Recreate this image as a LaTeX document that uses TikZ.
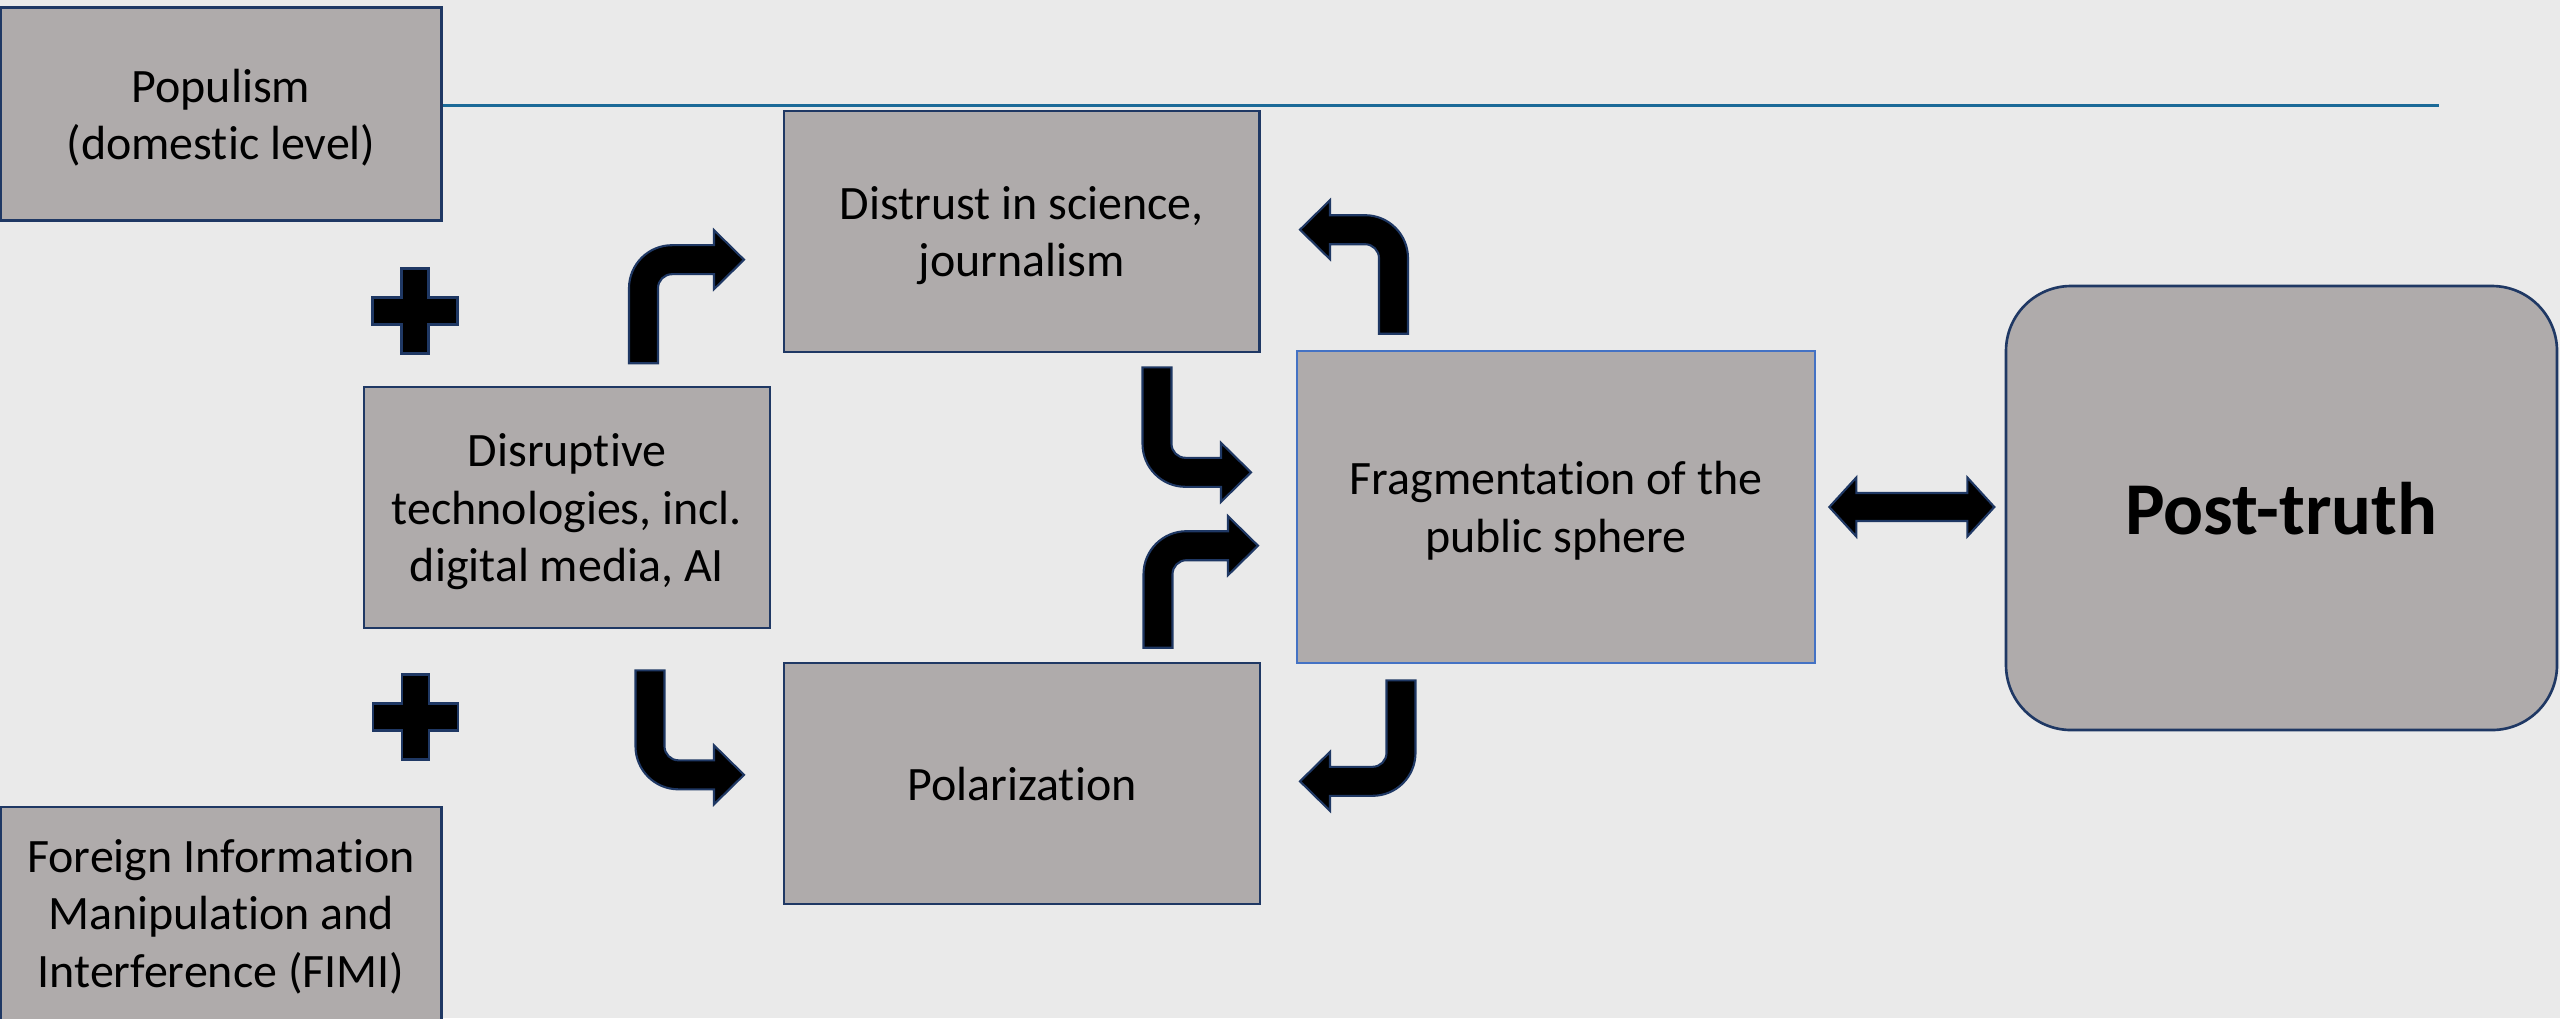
\documentclass[tikz,border=0pt]{standalone}
\usepackage{fontspec}
\setmainfont{Carlito}[Ligatures=NoCommon]
\usetikzlibrary{calc}

\definecolor{boxgray}{HTML}{AFABAB}
\definecolor{navy}{HTML}{1F3864}
\definecolor{fragblue}{HTML}{4472C4}
\definecolor{rulebl}{HTML}{1B6A98}
\definecolor{paper}{HTML}{EAEAEA}

\begin{document}
\begin{tikzpicture}[
    box/.style={draw=navy, line width=0.75pt, fill=boxgray, align=center,
        inner sep=0pt, text depth=0pt, font=\fontsize{13.65pt}{16.35pt}\selectfont},
    blockarrow/.style={fill=black, draw=navy, line width=0.6pt},
    pics/bent/.style 2 args={code={
        \filldraw[blockarrow] (-0.145,0) -- (-0.145,#1-0.285)
            arc[start angle=180,end angle=90,radius=0.43] -- (#2-0.3,#1+0.145)
            -- (#2-0.3,#1+0.295) -- (#2,#1) -- (#2-0.3,#1-0.295) -- (#2-0.3,#1-0.145)
            -- (0.285,#1-0.145) arc[start angle=90,end angle=180,radius=0.14]
            -- (0.145,0) -- cycle;
    }},
    pics/plus/.style={code={
        \filldraw[blockarrow] (-0.135,0.425) -- (0.135,0.425) -- (0.135,0.135)
            -- (0.425,0.135) -- (0.425,-0.135) -- (0.135,-0.135) -- (0.135,-0.425)
            -- (-0.135,-0.425) -- (-0.135,-0.135) -- (-0.425,-0.135)
            -- (-0.425,0.135) -- (-0.135,0.135) -- cycle;
    }}
    ]

    % background
    \useasboundingbox (0,0) rectangle (25.6,-10.18);
    \fill[paper] (0,0) rectangle (25.6,-10.18);

    % drivers
    \node[box, minimum width=4.41cm, minimum height=2.13cm] (pop) at (2.21,-1.143)
        {Populism\\(domestic level)};
    \node[box, minimum width=4.41cm, minimum height=2.13cm] (fimi) at (2.21,-9.133)
        {Foreign Information\\Manipulation and\\Interference (FIMI)};
    \node[box, minimum width=4.06cm, minimum height=2.41cm] (disrupt) at (5.67,-5.075)
        {Disruptive\\technologies, incl.\\digital media, AI};

    % effects
    \node[box, minimum width=4.755cm, minimum height=2.41cm] (distrust) at (10.2175,-2.315)
        {Distrust in science,\\journalism};
    \node[box, minimum width=4.76cm, minimum height=2.41cm] (polar) at (10.22,-7.835)
        {Polarization};
    \node[box, draw=fragblue, minimum width=5.18cm, minimum height=3.12cm] (frag) at (15.56,-5.07)
        {Fragmentation of the\\public sphere};
    \node[box, rounded corners=0.65cm, minimum width=5.51cm, minimum height=4.44cm,
        font=\fontsize{21.2pt}{24pt}\selectfont\bfseries] (post) at (22.815,-5.08)
        {Post-truth};

    % top rule
    \coordinate (ruleend) at (24.39,-1.058);
    \draw[rulebl, line width=0.8pt] (pop.east |- ruleend) -- (ruleend);

    % plus signs
    \pic at (4.15,-3.11) {plus};
    \pic at (4.155,-7.17) {plus};

    % bent arrows
    \pic at ($(disrupt.north)+(0.765,0.225)$) {bent={1.035}{1.005}};
    \pic[yscale=-1] at ($(disrupt.south)+(0.83,-0.41)$) {bent={1.045}{0.94}};
    \pic[yscale=-1] at ($(distrust.south)+(1.3525,-0.14)$) {bent={1.05}{0.94}};
    \pic at ($(polar.north)+(1.36,0.14)$) {bent={1.02}{1.00}};
    \pic[xscale=-1] at ($(frag.north)+(-1.625,0.16)$) {bent={1.04}{0.935}};
    \pic[xscale=-1,yscale=-1] at ($(frag.south)+(-1.55,-0.16)$) {bent={1.01}{1.01}};

    % frag <-> post-truth
    \filldraw[blockarrow] ($(frag.east)+(0.13,0)$) -- ++(0.27,0.295) -- ++(0,-0.155)
        -- ++(1.11,0) -- ++(0,0.155) -- ++(0.27,-0.295) -- ++(-0.27,-0.295)
        -- ++(0,0.155) -- ++(-1.11,0) -- ++(0,-0.155) -- cycle;

\end{tikzpicture}
\end{document}
